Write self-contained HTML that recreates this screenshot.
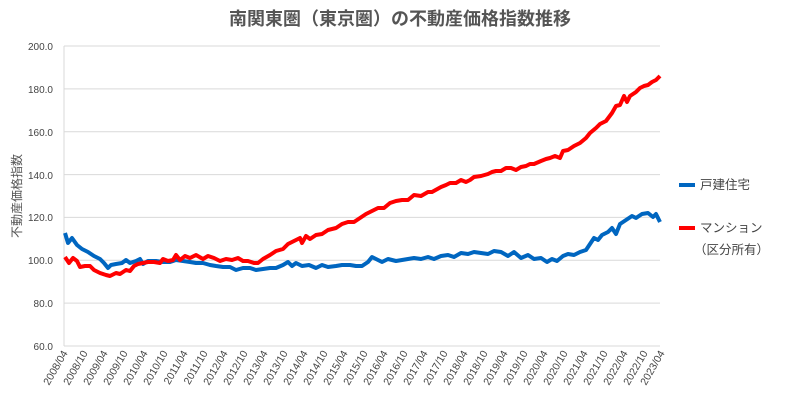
<!DOCTYPE html>
<html><head><meta charset="utf-8"><style>
body{margin:0;background:#fff;}
svg{display:block;font-family:"Liberation Sans","Noto Sans CJK JP",sans-serif;}
</style></head><body>
<svg width="798" height="406" viewBox="0 0 798 406">
<text x="400" y="25" text-anchor="middle" font-size="18" font-weight="bold" fill="#555">南関東圏（東京圏）の不動産価格指数推移</text>
<g stroke="#d9d9d9" stroke-width="1">
<line x1="64" y1="46" x2="660" y2="46"/><line x1="64" y1="88.9" x2="660" y2="88.9"/>
<line x1="64" y1="131.7" x2="660" y2="131.7"/><line x1="64" y1="174.6" x2="660" y2="174.6"/>
<line x1="64" y1="217.4" x2="660" y2="217.4"/><line x1="64" y1="260.3" x2="660" y2="260.3"/>
<line x1="64" y1="303.1" x2="660" y2="303.1"/><line x1="64" y1="346" x2="660" y2="346"/>
<line x1="64" y1="46" x2="64" y2="346"/>
</g>
<g font-size="10" fill="#444" text-anchor="end">
<text x="53" y="50">200.0</text><text x="53" y="93">180.0</text><text x="53" y="136">160.0</text>
<text x="53" y="179">140.0</text><text x="53" y="221">120.0</text><text x="53" y="264">100.0</text>
<text x="53" y="307">80.0</text><text x="53" y="350">60.0</text>
</g>
<text transform="translate(21,196) rotate(-90)" text-anchor="middle" font-size="12" fill="#555">不動産価格指数</text>
<g font-size="10.5" fill="#444" text-anchor="end">
<text transform="translate(68,353) rotate(-60)">2008/04</text>
<text transform="translate(88,353) rotate(-60)">2008/10</text>
<text transform="translate(108,353) rotate(-60)">2009/04</text>
<text transform="translate(128,353) rotate(-60)">2009/10</text>
<text transform="translate(148,353) rotate(-60)">2010/04</text>
<text transform="translate(168,353) rotate(-60)">2010/10</text>
<text transform="translate(188,353) rotate(-60)">2011/04</text>
<text transform="translate(208,353) rotate(-60)">2011/10</text>
<text transform="translate(228,353) rotate(-60)">2012/04</text>
<text transform="translate(248,353) rotate(-60)">2012/10</text>
<text transform="translate(268,353) rotate(-60)">2013/04</text>
<text transform="translate(288,353) rotate(-60)">2013/10</text>
<text transform="translate(308,353) rotate(-60)">2014/04</text>
<text transform="translate(328,353) rotate(-60)">2014/10</text>
<text transform="translate(348,353) rotate(-60)">2015/04</text>
<text transform="translate(368,353) rotate(-60)">2015/10</text>
<text transform="translate(388,353) rotate(-60)">2016/04</text>
<text transform="translate(408,353) rotate(-60)">2016/10</text>
<text transform="translate(428,353) rotate(-60)">2017/04</text>
<text transform="translate(448,353) rotate(-60)">2017/10</text>
<text transform="translate(468,353) rotate(-60)">2018/04</text>
<text transform="translate(488,353) rotate(-60)">2018/10</text>
<text transform="translate(508,353) rotate(-60)">2019/04</text>
<text transform="translate(528,353) rotate(-60)">2019/10</text>
<text transform="translate(548,353) rotate(-60)">2020/04</text>
<text transform="translate(568,353) rotate(-60)">2020/10</text>
<text transform="translate(588,353) rotate(-60)">2021/04</text>
<text transform="translate(608,353) rotate(-60)">2021/10</text>
<text transform="translate(628,353) rotate(-60)">2022/04</text>
<text transform="translate(648,353) rotate(-60)">2022/10</text>
<text transform="translate(665,353) rotate(-60)">2023/04</text>
</g>
<polyline fill="none" stroke="#0066c0" stroke-width="4" stroke-linejoin="round" points="65,233 68,243 72,238 77,245 82,249 88,252 94,256 100,259 104,263 108,268 111,265 116,264 122,263 126,260 130,263 136,261 140,259 143,264 148,261 156,261 163,262 170,262 176,260 183,261 190,262 196,263 203,263 210,265 216,266 223,267 230,267 236,270 243,268 250,268 256,270 263,269 270,268 276,268 283,265 288,262 292,266 296,263 302,266 309,265 316,268 322,265 328,267 336,266 342,265 350,265 356,266 362,266 368,262 372,257 378,260 382,262 388,259 396,261 402,260 408,259 414,258 421,259 428,257 434,259 441,256 448,255 454,257 461,253 468,254 474,252 481,253 488,254 494,251 501,252 508,256 514,252 521,258 528,255 534,259 541,258 547,262 552,259 557,261 563,256 568,254 574,255 580,252 586,250 590,244 594,238 598,240 602,235 608,232 612,228 616,234 620,224 626,220 632,216 636,218 642,214 648,213 653,217 656,214 660,222"/>
<polyline fill="none" stroke="#ff0000" stroke-width="4" stroke-linejoin="round" points="65,257 69,263 73,258 77,261 80,267 85,266 90,266 94,270 100,273 106,275 110,276 116,273 120,274 126,270 130,271 134,266 138,264 143,263 148,262 154,262 160,263 163,259 168,261 173,260 176,255 180,260 185,256 190,258 196,255 203,259 208,256 214,258 220,261 226,259 232,260 238,258 243,261 248,261 254,263 258,263 263,259 270,255 276,251 283,249 288,244 292,242 296,240 300,238 302,243 306,236 310,239 316,235 322,234 328,230 336,228 342,224 348,222 354,222 360,218 366,214 372,211 378,208 384,208 390,203 396,201 402,200 408,200 414,195 421,196 428,192 432,192 441,187 446,185 450,183 456,183 461,180 466,182 470,180 474,177 481,176 488,174 492,172 496,171 501,171 506,168 511,168 516,170 521,167 526,166 530,164 534,164 541,161 546,159 550,158 555,156 560,158 563,151 568,150 574,146 580,143 586,138 590,133 596,128 600,124 606,121 612,113 616,106 620,105 624,96 627,102 630,96 636,92 640,88 644,86 648,85 652,82 656,80 660,76"/>
<line x1="679" y1="185" x2="695" y2="185" stroke="#0066c0" stroke-width="4"/>
<text x="700" y="189" font-size="12.5" fill="#444">戸建住宅</text>
<line x1="679" y1="228" x2="695" y2="228" stroke="#ff0000" stroke-width="4"/>
<text x="700" y="232" font-size="12.5" fill="#444">マンション</text>
<text x="694" y="254" font-size="12.5" fill="#444">（区分所有）</text>
</svg>
</body></html>
